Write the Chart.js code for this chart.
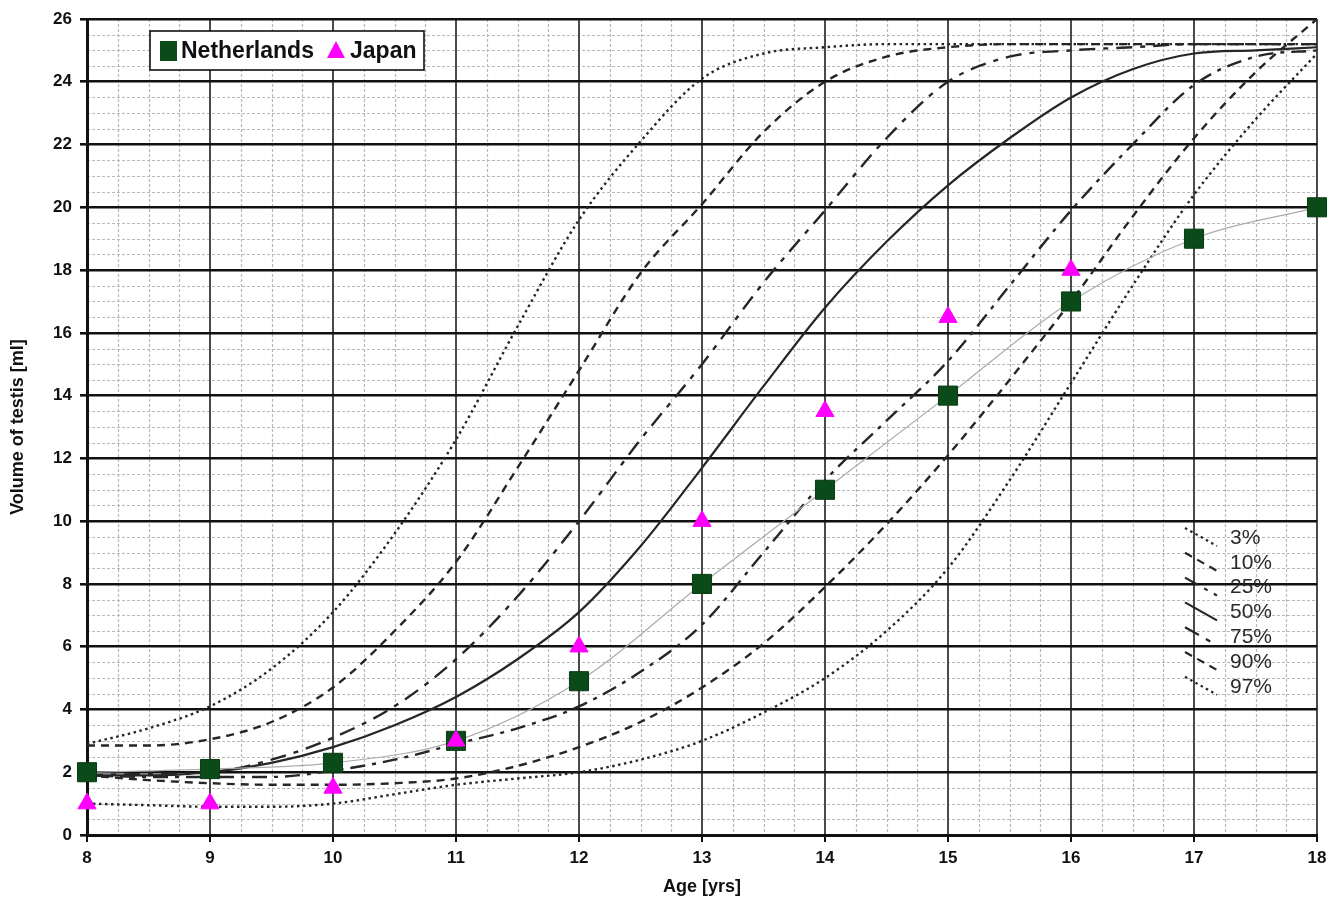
<!DOCTYPE html>
<html>
<head>
<meta charset="utf-8">
<script src="https://cdn.jsdelivr.net/npm/chart.js@4"></script>
<style>
  html, body { margin: 0; padding: 0; background: #fff; }
  #wrap { width: 1338px; height: 898px; }
</style>
</head>
<body>
<div id="wrap"><canvas id="chart" width="1338" height="898"></canvas></div>
<script>
// half-year ages used for the percentile curves
const ages = [8, 8.5, 9, 9.5, 10, 10.5, 11, 11.5, 12, 12.5, 13, 13.5, 14, 14.5, 15, 15.5, 16, 16.5, 17, 17.5, 18];

const p97 = [2.9, 3.4, 4.1, 5.3, 7.1, 9.6, 12.6, 16.2, 19.6, 22.1, 24.1, 24.9, 25.1, 25.2, 25.2, 25.2, 25.2, 25.2, 25.2, 25.2, 25.2];
const p90 = [2.85, 2.85, 3.05, 3.6, 4.7, 6.5, 8.7, 11.7, 14.8, 17.9, 20.1, 22.4, 24.0, 24.8, 25.1, 25.2, 25.2, 25.2, 25.2, 25.2, 25.2];
const p75 = [1.9, 1.95, 2.0, 2.4, 3.1, 4.1, 5.6, 7.6, 10.0, 12.6, 15.0, 17.6, 19.9, 22.2, 24.0, 24.8, 25.0, 25.1, 25.2, 25.2, 25.2];
const p50 = [1.9, 1.9, 2.0, 2.3, 2.8, 3.5, 4.4, 5.6, 7.1, 9.2, 11.7, 14.3, 16.8, 18.9, 20.7, 22.2, 23.5, 24.4, 24.9, 25.0, 25.1];
const p25 = [1.9, 1.85, 1.85, 1.85, 2.05, 2.4, 2.9, 3.4, 4.1, 5.2, 6.7, 9.0, 11.3, 13.2, 15.1, 17.5, 19.9, 22.0, 23.9, 24.8, 25.0];
const p10 = [1.9, 1.75, 1.65, 1.6, 1.6, 1.65, 1.8, 2.2, 2.8, 3.6, 4.7, 6.1, 7.9, 9.9, 12.1, 14.5, 17.0, 19.7, 22.2, 24.3, 26.0];
const p3  = [1.0, 0.95, 0.9, 0.9, 1.0, 1.3, 1.6, 1.8, 2.0, 2.4, 3.0, 3.9, 5.0, 6.5, 8.5, 11.3, 14.4, 17.5, 20.4, 22.8, 24.9];

const nlAges = [8, 9, 10, 11, 12, 13, 14, 15, 16, 17, 18];
const netherlands = [2, 2.1, 2.3, 3, 4.9, 8, 11, 14, 17, 19, 20];

const jpAges = [8, 9, 10, 11, 12, 13, 14, 15, 16];
const japan = [1, 1, 1.5, 3, 6, 10, 13.5, 16.5, 18];

const pctLabels = ['3%', '10%', '25%', '50%', '75%', '90%', '97%'];

// line styles, in legend order (3% .. 97%)
const dotted = [2.5, 3.5];
const shortDash = [8, 6];
const dashDot = [15, 7, 4, 7];
const longDash = [16, 8, 5, 8];
const pctDash = [dotted, shortDash, dashDot, [], longDash, shortDash, dotted];
const pctSeries = [p3, p10, p25, p50, p75, p90, p97];

const FONT = '"Liberation Sans", Arial, sans-serif';

function pts(xs, ys) {
  return xs.map((x, i) => ({ x: x, y: ys[i] }));
}

const datasets = [];
datasets.push({
  label: 'Japan',
  data: pts(jpAges, japan),
  showLine: false,
  clip: false,
  pointStyle: 'triangle',
  pointRadius: 10.5,
  pointHoverRadius: 10.5,
  backgroundColor: '#ff00ff',
  borderColor: '#ff00ff',
  borderWidth: 1,
  order: 0
});
datasets.push({
  label: 'Netherlands',
  data: pts(nlAges, netherlands),
  clip: false,
  pointStyle: 'rect',
  pointRadius: 13.5,
  pointHoverRadius: 13.5,
  backgroundColor: '#0b4a19',
  pointBackgroundColor: '#0b4a19',
  pointBorderColor: '#083a12',
  pointBorderWidth: 1,
  borderColor: '#ababab',
  borderWidth: 1.2,
  cubicInterpolationMode: 'monotone',
  order: 1
});
pctSeries.forEach((s, i) => {
  datasets.push({
    label: pctLabels[i],
    data: pts(ages, s),
    borderColor: '#262626',
    borderWidth: i === 3 ? 2.2 : 2.4,
    borderDash: pctDash[i],
    pointRadius: 0,
    cubicInterpolationMode: 'monotone',
    fill: false,
    order: 2
  });
});

// white background and minor dotted grid under everything
const minorGrid = {
  id: 'minorGrid',
  beforeDraw(chart) {
    const ctx = chart.ctx;
    const a = chart.chartArea;
    const xs = chart.scales.x, ys = chart.scales.y;
    ctx.save();
    ctx.fillStyle = '#fff';
    ctx.fillRect(0, 0, chart.width, chart.height);
    ctx.strokeStyle = '#b8b8b8';
    ctx.lineWidth = 1.2;
    ctx.setLineDash([3, 2]);
    for (let v = 0.5; v < 26; v += 0.5) {
      if (v % 2 === 0) continue;
      const y = Math.round(ys.getPixelForValue(v)) + 0.5;
      ctx.beginPath(); ctx.moveTo(a.left, y); ctx.lineTo(a.right, y); ctx.stroke();
    }
    for (let v = 8.25; v < 18; v += 0.25) {
      if (v % 1 === 0) continue;
      const x = Math.round(xs.getPixelForValue(v)) + 0.5;
      ctx.beginPath(); ctx.moveTo(x, a.top); ctx.lineTo(x, a.bottom); ctx.stroke();
    }
    ctx.restore();
  }
};

// the two in-chart legends
const legends = {
  id: 'legends',
  afterDraw(chart) {
    const ctx = chart.ctx;
    const a = chart.chartArea;
    ctx.save();
    // top-left box
    const bx = a.left + 63, by = a.top + 12;
    ctx.fillStyle = '#fff';
    ctx.fillRect(bx, by, 274, 39);
    ctx.strokeStyle = '#111';
    ctx.lineWidth = 1.6;
    ctx.strokeRect(bx, by, 274, 39);
    ctx.fillStyle = '#0b4a19';
    ctx.fillRect(bx + 10, by + 10, 17, 20);
    ctx.font = 'bold 23px ' + FONT;
    ctx.fillStyle = '#111';
    ctx.textBaseline = 'middle';
    ctx.fillText('Netherlands', bx + 31, by + 21);
    const tx = bx + 186;
    ctx.fillStyle = '#ff00ff';
    ctx.beginPath();
    ctx.moveTo(tx, by + 10); ctx.lineTo(tx + 9, by + 27); ctx.lineTo(tx - 9, by + 27);
    ctx.closePath(); ctx.fill();
    ctx.fillStyle = '#111';
    ctx.fillText('Japan', tx + 14, by + 21);

    // percentile key, bottom right
    const kx = a.right - 132;
    const ky = a.top + 518;
    ctx.font = '21px ' + FONT;
    pctLabels.forEach((lab, i) => {
      const y = ky + i * 24.8;
      ctx.strokeStyle = '#262626';
      ctx.lineWidth = 2.2;
      ctx.setLineDash(pctDash[i]);
      ctx.beginPath();
      ctx.moveTo(kx, y - 9);
      ctx.lineTo(kx + 32, y + 9);
      ctx.stroke();
      ctx.setLineDash([]);
      ctx.fillStyle = '#2a2a2a';
      ctx.fillText(lab, kx + 45, y + 1);
    });
    ctx.restore();
  }
};

new Chart(document.getElementById('chart'), {
  type: 'line',
  data: { datasets: datasets },
  options: {
    responsive: false,
    maintainAspectRatio: false,
    animation: false,
    layout: { padding: { top: 19, right: 21, left: 0, bottom: 0 } },
    plugins: {
      legend: { display: false },
      tooltip: { enabled: false }
    },
    scales: {
      x: {
        type: 'linear',
        min: 8,
        max: 18,
        afterFit(s) { s.height = 63; },
        ticks: {
          stepSize: 1,
          color: '#111',
          padding: 6,
          font: { family: FONT, size: 17, weight: 'bold' }
        },
        grid: { color: '#4a4a4a', lineWidth: 2, tickLength: 7, tickColor: '#111' },
        border: { color: '#111', width: 3 },
        title: {
          display: true,
          text: 'Age [yrs]',
          color: '#111',
          padding: { top: 2, bottom: 0 },
          font: { family: FONT, size: 18, weight: 'bold' }
        }
      },
      y: {
        min: 0,
        max: 26,
        afterFit(s) { s.width = 87; },
        ticks: {
          stepSize: 2,
          color: '#111',
          padding: 8,
          font: { family: FONT, size: 17, weight: 'bold' }
        },
        grid: { color: '#111', lineWidth: 2.6, tickLength: 7, tickColor: '#111' },
        border: { color: '#111', width: 3 },
        title: {
          display: true,
          text: 'Volume of testis [ml]',
          color: '#111',
          padding: { top: 7, bottom: 2 },
          font: { family: FONT, size: 18, weight: 'bold' }
        }
      }
    }
  },
  plugins: [minorGrid, legends]
});
</script>
</body>
</html>
